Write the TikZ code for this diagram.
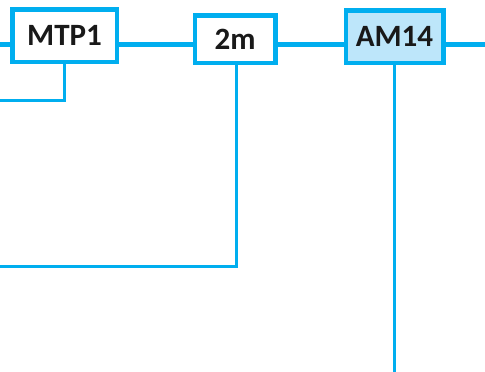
\documentclass[tikz,border=0pt]{standalone}
\usepackage{fontspec}
\setmainfont{Carlito}
\usetikzlibrary{backgrounds, calc}
\definecolor{wireblue}{HTML}{00AEEF}
\definecolor{hiblue}{HTML}{BDE6FA}

\begin{document}
\begin{tikzpicture}[
  x=1pt, y=-1pt,
  box/.style={draw=wireblue, line width=4.5pt, fill=white, inner sep=0pt,
              text centered, font=\fontsize{31}{34}\selectfont\bfseries,
              text=black!90},
  bus/.style={draw=wireblue, line width=4.5pt},
  wire/.style={draw=wireblue, line width=3pt}
]
  \useasboundingbox (0,0) rectangle (485,372);

  \node[box, minimum width=104.5pt, minimum height=52.5pt] (MTP1) at (64.5,35.5) {MTP1};
  \node[box, minimum width=80.5pt, minimum height=47.5pt] (2m) at (235,39) {2m};
  \node[box, fill=hiblue, minimum width=97.5pt, minimum height=52.5pt] (AM14) at (394.5,36.5) {AM14};

  \coordinate (west) at (0,44.5);
  \coordinate (east) at (485,44.5);
  \coordinate (low1) at (0,100);
  \coordinate (low2) at (0,266);
  \coordinate (foot) at (394.5,372);

  % main line behind the boxes
  \begin{scope}[on background layer]
    \draw[bus] (west) -- (east);
  \end{scope}

  \draw[wire] (MTP1.south) |- (low1);
  \draw[wire] ($(2m.south)+(1.5,0)$) |- (low2);
  \draw[wire] (AM14.south) -- (foot);
\end{tikzpicture}
\end{document}
